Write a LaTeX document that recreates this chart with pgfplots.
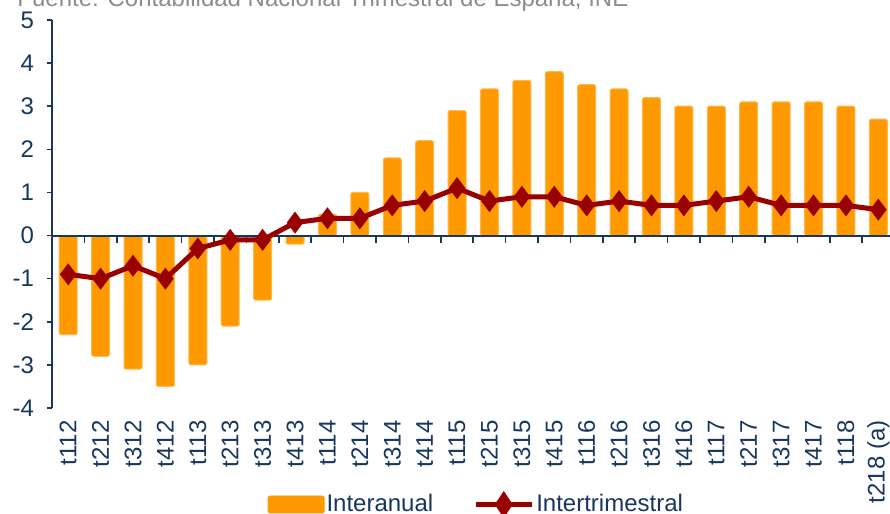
\documentclass[border=0pt]{standalone}
\usepackage{pgfplots}
\pgfplotsset{compat=1.18}
\usepackage{pgfplotstable}
\usepackage{fontspec}
\setmainfont{Liberation Sans}
\definecolor{barorange}{HTML}{FF9900}
\definecolor{linered}{HTML}{990000}
\definecolor{axblue}{HTML}{17375E}
\definecolor{srcgray}{HTML}{8C8C8C}

\pgfplotstableread{
x bar line
0 -2.3 -0.9
1 -2.8 -1.0
2 -3.1 -0.7
3 -3.5 -1.0
4 -3.0 -0.3
5 -2.1 -0.1
6 -1.5 -0.1
7 -0.2 0.3
8 0.5 0.4
9 1.0 0.4
10 1.8 0.7
11 2.2 0.8
12 2.9 1.1
13 3.4 0.8
14 3.6 0.9
15 3.8 0.9
16 3.5 0.7
17 3.4 0.8
18 3.2 0.7
19 3.0 0.7
20 3.0 0.8
21 3.1 0.9
22 3.1 0.7
23 3.1 0.7
24 3.0 0.7
25 2.7 0.6
}\datatable

\begin{document}
\begin{tikzpicture}
\pgfplotsset{common/.style={
  scale only axis, width=419pt, height=194pt,
  xmin=-0.5, xmax=25.36, ymin=-4, ymax=5,
  at={(0,0)}, anchor=south west,
  font=\fontsize{12}{14}\selectfont,
  /pgf/number format/assume math mode=true,
}}
\begin{axis}[common,
  axis y line*=left, axis x line*=bottom,
  x axis line style={draw=none},
  y axis line style={axblue, line width=0.8pt},
  xtick={0,...,25},
  xticklabels={t112,t212,t312,t412,t113,t213,t313,t413,t114,t214,t314,t414,t115,t215,t315,t415,t116,t216,t316,t416,t117,t217,t317,t417,t118,t218 (a)},
  x tick label style={rotate=90, anchor=east, text=axblue, inner xsep=3.5pt},
  major x tick style={draw=none},
  ytick={-4,...,5},
  y tick label style={text=axblue, xshift=-3pt},
  ytick style={axblue, line width=0.8pt},
  tick align=outside,
  major tick length=2.5pt,
]
\addplot[ybar, bar width=9pt, fill=barorange, draw=barorange!70, line width=0.5pt, rounded corners=1pt] table[x=x, y=bar]{\datatable};
\end{axis}
\begin{axis}[common,
  axis x line=middle, axis y line=none,
  inner axis line style={-},
  x axis line style={axblue, line width=1pt, -},
  xtick={-0.5,0.5,...,24.5},
  xticklabels={},
  ytick=\empty,
  xtick style={axblue, line width=0.8pt},
  tick align=outside,
  major tick length=3.5pt,
  legend style={at={(axis description cs:0.5064,-0.2487)}, anchor=center,
    draw=none, fill=none, text=axblue, font=\fontsize{12}{14}\selectfont,
    legend columns=2,
    /tikz/every even column/.append style={column sep=19pt},
    nodes={inner xsep=1pt}},
]
\addlegendimage{legend image code/.code={\fill[barorange, rounded corners=1pt] (0pt,-4.25pt) rectangle (28pt,4.25pt);}}
\addlegendentry{Interanual}
\addplot[linered, line width=2.5pt, mark=diamond*, mark size=5.2pt,
  mark options={solid, fill=linered, draw=linered, line width=0.4pt},
  legend image code/.code={\draw[linered, line width=2.5pt] (0pt,0pt) -- (28pt,0pt); \fill[linered] (14pt,4.5pt) -- (17pt,0pt) -- (14pt,-4.5pt) -- (11pt,0pt) -- cycle;}]
  table[x=x, y=line]{\datatable};
\addlegendentry{Intertrimestral}
\end{axis}
\node[anchor=base west, text=srcgray, font=\fontsize{12}{14}\selectfont, inner sep=0pt] at (-17.5pt,200.5pt) {Fuente: Contabilidad Nacional Trimestral de España, INE};
\pgfresetboundingbox
\useasboundingbox (-26pt,-53pt) rectangle (419pt,204pt);
\end{tikzpicture}
\end{document}
